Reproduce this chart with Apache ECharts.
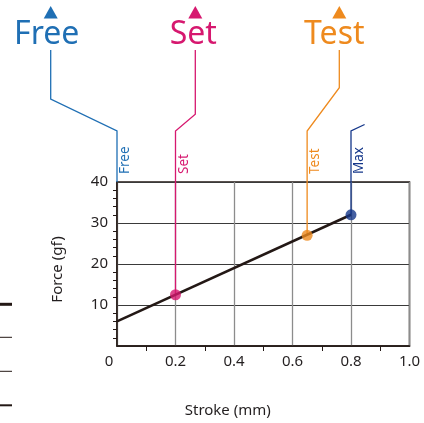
<!DOCTYPE html>
<html>
<head>
<meta charset="utf-8">
<script src="https://cdn.jsdelivr.net/npm/echarts@6/dist/echarts.min.js"></script>
<style>html,body{margin:0;padding:0;background:#fff}#c{width:424px;height:423px}</style>
</head>
<body>
<div id="c"></div>
<script>
// ---- data ----
const lineStroke = [0, 0.8];
const lineForce = [6, 32];
const pointNames = ['Set', 'Test', 'Max'];
const pointStroke = [0.2, 0.65, 0.8];
const pointForce = [12.5, 27, 32];
const freeStroke = 0;
const xTickValues = [0, 0.2, 0.4, 0.6, 0.8, 1.0];
const xTickLabels = ['0', '0.2', '0.4', '0.6', '0.8', '1.0'];
const yTickValues = [10, 20, 30, 40];
const yTickLabels = ['10', '20', '30', '40'];

const colors = { Free: '#1f6fb4', Set: '#d6186f', Test: '#ee8a1e', Max: '#15378a' };
const textColor = '#231f20';
const FONT = '"Noto Sans", sans-serif';

const chart = echarts.init(document.getElementById('c'), null, { renderer: 'canvas' });

function xLabel(v) {
  const i = xTickValues.findIndex(t => Math.abs(t - v) < 1e-9);
  if (i < 0) return '';
  return i === 0 ? '{z|' + xTickLabels[i] + '}' : xTickLabels[i];
}
function yLabel(v) {
  const i = yTickValues.findIndex(t => Math.abs(t - v) < 1e-9);
  return i < 0 ? '' : yTickLabels[i];
}

chart.setOption({
  animation: false,
  grid: { left: 117, right: 14.5, top: 182, bottom: 77, show: true, borderColor: '#231815', borderWidth: 1.5, backgroundColor: 'transparent' },
  xAxis: {
    type: 'value', min: 0, max: 1, interval: 0.2,
    name: 'Stroke (mm)', nameLocation: 'middle', nameGap: 57,
    nameTextStyle: { fontFamily: FONT, fontSize: 15, color: textColor, padding: [0, 71, 0, 0] },
    axisLine: { show: true, lineStyle: { color: '#231815', width: 1.5 } },
    axisTick: { show: false },
    minorTick: { show: true, splitNumber: 2, length: 5, inside: true, lineStyle: { color: '#231815', width: 1 } },
    splitLine: { show: true, lineStyle: { color: '#8c8c8c', width: 1.3 } },
    axisLabel: {
      formatter: xLabel, fontFamily: FONT, fontSize: 15, color: textColor, margin: 8,
      rich: { z: { fontFamily: FONT, fontSize: 15, color: textColor, padding: [0, 16, 0, 0] } }
    }
  },
  yAxis: {
    type: 'value', min: 0, max: 40, interval: 10,
    name: 'Force (gf)', nameLocation: 'middle', nameGap: 52,
    nameTextStyle: { fontFamily: FONT, fontSize: 15, color: textColor, padding: [0, 11, 0, 0] },
    axisLine: { show: true, lineStyle: { color: '#231815', width: 1.5 } },
    axisTick: { show: false },
    minorTick: { show: true, splitNumber: 5, length: 4, inside: true, lineStyle: { color: '#231815', width: 1 } },
    splitLine: { show: true, lineStyle: { color: '#3a3a3a', width: 1 } },
    axisLabel: { formatter: yLabel, fontFamily: FONT, fontSize: 15, color: textColor, margin: 9 }
  },
  series: [
    {
      type: 'line', data: lineStroke.map((x, i) => [x, lineForce[i]]),
      symbol: 'none', lineStyle: { color: '#231815', width: 2.6 }, z: 3
    },
    {
      type: 'scatter', symbolSize: 11, z: 5,
      data: pointNames.map((n, i) => ({ value: [pointStroke[i], pointForce[i]], name: n, itemStyle: { color: colors[n] } }))
    }
  ]
});

// ---- annotation leader lines (layout in pixels, anchored to data points) ----
const kneeY = 131;
const topY = 50;
const bigLabels = {
  Free: { x: 50.7, knee: 99, dx: -4 },
  Set: { x: 195.3, knee: 114.3, dx: -2 },
  Test: { x: 339.3, knee: 87.7, dx: -5 }
};
const graphics = [];
function addLeader(name, bottom, isMax) {
  const col = colors[name];
  let pts;
  if (isMax) {
    pts = [bottom, [bottom[0], kneeY], [bottom[0] + 13.6, kneeY - 6.5]];
  } else {
    const b = bigLabels[name];
    pts = [bottom, [bottom[0], kneeY], [b.x, b.knee], [b.x, topY]];
  }
  graphics.push({ type: 'polyline', z: 1, shape: { points: pts }, style: { stroke: col, lineWidth: 1.3, fill: null } });
  // small rotated label
  graphics.push({
    type: 'text', z: 4, x: bottom[0] + 1.5, y: 174, rotation: Math.PI / 2,
    style: { text: name, fontFamily: FONT, fontSize: 13.5, fill: col, align: 'left', verticalAlign: 'top' }
  });
  if (!isMax) {
    const b = bigLabels[name];
    graphics.push({
      type: 'text', z: 4, x: b.x + b.dx, y: 51,
      style: { text: name, fontFamily: FONT, fontSize: 32, fill: col, align: 'center', verticalAlign: 'bottom' }
    });
    graphics.push({
      type: 'polygon', z: 4, shape: { points: [[b.x - 7, 18.5], [b.x + 7, 18.5], [b.x, 6]] }, style: { fill: col }
    });
  }
}
const freeBottom = chart.convertToPixel({ gridIndex: 0 }, [freeStroke, 40]);
addLeader('Free', freeBottom, false);
pointNames.forEach((n, i) => {
  const p = chart.convertToPixel({ gridIndex: 0 }, [pointStroke[i], pointForce[i]]);
  addLeader(n, p, n === 'Max');
});
// stray dashes at the left edge
[[304.3, 3], [337.3, 1], [371.3, 1], [405.3, 2]].forEach(d => {
  graphics.push({ type: 'line', shape: { x1: 0, y1: d[0], x2: 12, y2: d[0] }, style: { stroke: '#231815', lineWidth: d[1] } });
});
chart.setOption({ graphic: graphics });
</script>
</body>
</html>
